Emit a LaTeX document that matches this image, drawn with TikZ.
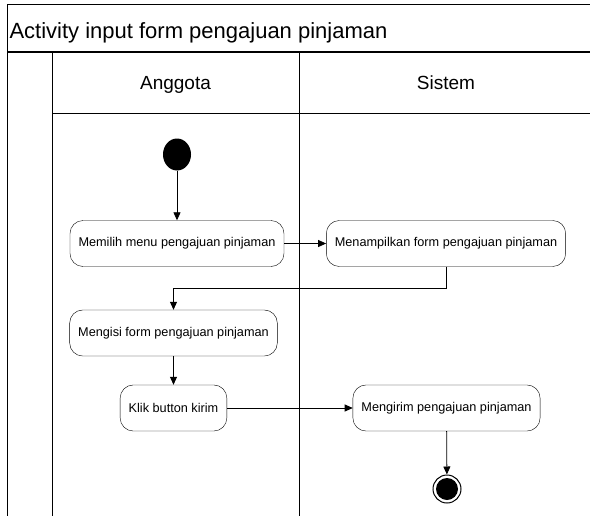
\documentclass[tikz,border=0pt]{standalone}
\usepackage{fontspec}
\setmainfont{Liberation Sans}
\usetikzlibrary{arrows.meta,shapes.geometric}

\begin{document}
\begin{tikzpicture}[x=1pt,y=-1pt,
    act/.style={draw,rounded corners=13pt,minimum height=46pt,inner xsep=8.5pt,font=\fontsize{12.7}{15}\selectfont},
    flow/.style={-{Triangle[length=8pt,width=7pt]},line width=0.8pt}]
            \useasboundingbox (0,0) rectangle (590,515);
            \clip (0,0) rectangle (590,515);
            \draw[line width=1pt] (7,520)--(7,4)--(600,4);
            \draw[line width=1.8pt] (7,52)--(600,52);
            \draw[line width=1pt] (52,52)--(52,520);
            \draw[line width=1pt] (299,52)--(299,520);
            \draw[line width=1pt] (52,113)--(600,113);
            \node[anchor=base west,font=\fontsize{22}{26}\selectfont] (judul) at (6,38) {Activity input form pengajuan pinjaman};
            \node[anchor=base,font=\fontsize{19}{22}\selectfont] (anggota) at (175.5,89) {Anggota};
            \node[anchor=base,font=\fontsize{19}{22}\selectfont] (sistem) at (446,89) {Sistem};

            \node[ellipse,fill=black,minimum width=28pt,minimum height=32pt,inner sep=0pt] (mulai) at (177,154.5) {};
            \node[act] (pilih) at (177,243.5) {Memilih menu pengajuan pinjaman};
            \node[act] (tampil) at (446,243.5) {Menampilkan form pengajuan pinjaman};
            \node[act] (isi) at (173.5,333) {Mengisi form pengajuan pinjaman};
            \node[act] (klik) at (173.5,408) {Klik button kirim};
            \node[act] (kirim) at (446.5,408) {Mengirim pengajuan pinjaman};
            \node[circle,draw,line width=1pt,minimum size=28pt,inner sep=0pt] (selesai) at (447,489) {};
            \fill (selesai) circle (11);

            \draw[flow] (mulai)--(pilih);
            \draw[flow] (pilih)--(tampil);
            \draw[flow] (tampil.south)--++(0,22)-|(isi.north);
            \draw[flow] (isi)--(klik);
            \draw[flow] (klik)--(kirim);
            \draw[flow] (kirim)--(selesai);
        \end{tikzpicture}
\end{document}
